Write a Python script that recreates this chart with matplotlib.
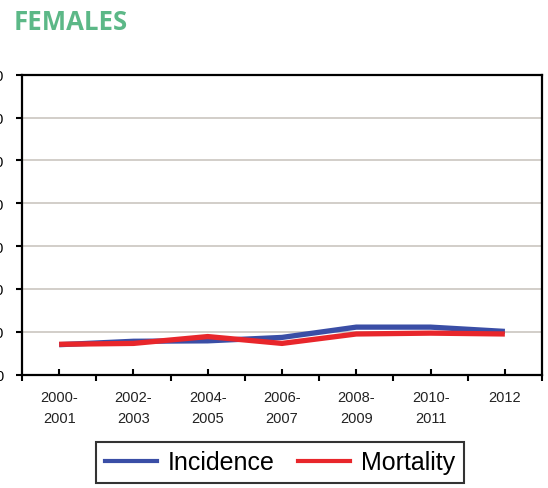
import matplotlib
matplotlib.use("Agg")
import matplotlib.pyplot as plt
from matplotlib.lines import Line2D

periods = ["2000-\n2001", "2002-\n2003", "2004-\n2005", "2006-\n2007",
           "2008-\n2009", "2010-\n2011", "2012"]
incidence = [7.0, 7.8, 7.9, 8.7, 11.1, 11.1, 10.1]
mortality = [7.1, 7.3, 8.9, 7.3, 9.5, 9.7, 9.5]
y_ticks = [0, 10, 20, 30, 40, 50, 60, 70]

blue = "#3a4ea6"
red = "#e8262b"
green = "#5cb887"

fig = plt.figure(figsize=(5.48, 4.89), dpi=100)
ax = fig.add_axes([22/548, 1 - 375.7/489, 520/548, 300/489])

x = list(range(len(periods)))
ax.plot(x, incidence, color=blue, lw=3.8, solid_capstyle="butt", zorder=3)
ax.plot(x, mortality, color=red, lw=3.8, solid_capstyle="butt", zorder=4)

ax.set_xlim(-0.5, len(periods) - 0.5)
ax.set_ylim(y_ticks[0], y_ticks[-1])
ax.set_yticks(y_ticks)
ax.set_yticklabels([str(v) for v in y_ticks], fontsize=10.5, family="Liberation Sans")
for v in y_ticks[1:-1]:
    ax.axhline(v, color="#cbc6c0", lw=1.2, zorder=1)

ax.set_xticks(x)
ax.set_xticklabels(periods, fontsize=10.5, family="Liberation Sans",
                   linespacing=1.65, color="#222222")
ax.set_xticks([i - 0.5 for i in range(len(periods) + 1)], minor=True)
ax.tick_params(axis="x", which="major", direction="in", length=4, width=1.5, pad=11)
ax.tick_params(axis="x", which="minor", direction="out", length=4, width=1.5)
ax.tick_params(axis="y", which="major", direction="out", length=4, width=1.5, pad=9)

for s in ax.spines.values():
    s.set_linewidth(1.6)
    s.set_color("black")

handles = [Line2D([], [], color=blue, lw=3), Line2D([], [], color=red, lw=3)]
leg = fig.legend(handles, ["Incidence", "Mortality"], loc="center",
                 bbox_to_anchor=(280/548, 1 - 463.5/489), ncol=2,
                 prop={"family": "Liberation Sans", "size": 18},
                 frameon=True, fancybox=False, edgecolor="black",
                 handlelength=2.1, handletextpad=0.45, columnspacing=0.9,
                 borderpad=0.35)
leg.get_frame().set_linewidth(1.5)

fig.text(14/548, 1 - 22/489, "FEMALES", color=green, fontsize=18.5,
         fontweight="bold", family="Open Sans", va="center", ha="left")

fig.savefig("out.png", dpi=100)
